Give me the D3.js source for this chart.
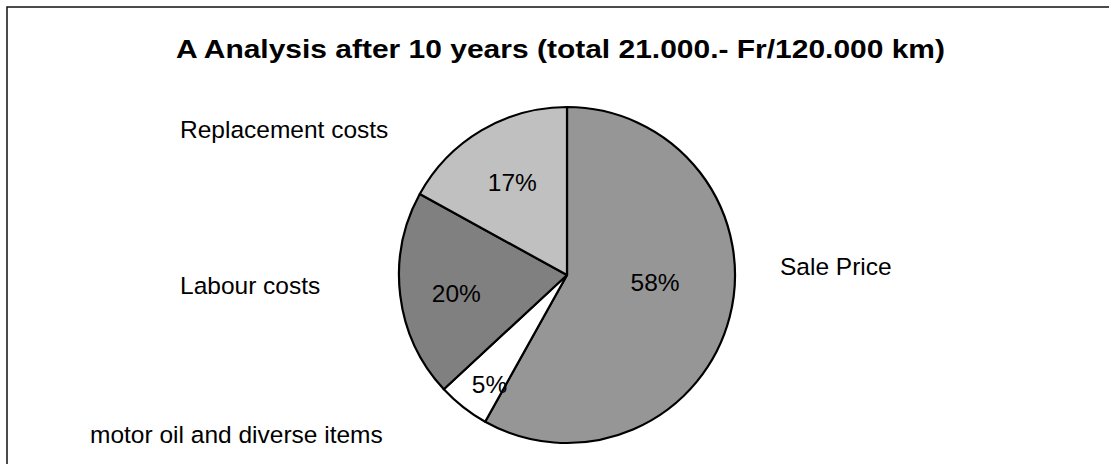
<!DOCTYPE html>
<html>
<head>
<meta charset="utf-8">
<script src="https://cdn.jsdelivr.net/npm/d3@7"></script>
<style>
  body { margin: 0; background: #fff; }
  text { font-family: "Liberation Sans", Arial, sans-serif; fill: #000; }
</style>
</head>
<body>
<script>
//// Data ////
const categories = ["Sale Price", "motor oil and diverse items", "Labour costs", "Replacement costs"]
const shares = [58.1, 5.0, 19.9, 17.0]
const sliceColors = ["#969696", "#ffffff", "#808080", "#c0c0c0"]
const TITLE = "A Analysis after 10 years (total 21.000.- Fr/120.000 km)"

//// Layout ////
const WIDTH = 1109
const HEIGHT = 464
const CX = 567
const CY = 275
const RADIUS = 168
const LABEL_RADIUS = 0.64
// where Excel dropped the category labels: [x, baseline, anchor]
const CATEGORY_POS = {
  "Sale Price": [780, 275, "start"],
  "motor oil and diverse items": [90, 443, "start"],
  "Labour costs": [180, 294, "start"],
  "Replacement costs": [180, 138, "start"]
}
// small nudges for the percent labels
const PCT_NUDGE = {
  "Sale Price": [-16, -20],
  "motor oil and diverse items": [-11, 25],
  "Labour costs": [-4, 5]
}

const svg = d3.select("body").append("svg")
  .attr("width", WIDTH)
  .attr("height", HEIGHT)

// frame (runs off the right and bottom edge)
svg.append("rect")
  .attr("x", 7).attr("y", 7)
  .attr("width", WIDTH + 20).attr("height", HEIGHT + 20)
  .attr("fill", "none")
  .attr("stroke", "#111")
  .attr("stroke-width", 1.5)

svg.append("text")
  .attr("x", 560.5).attr("y", 58)
  .attr("text-anchor", "middle")
  .attr("font-size", 26)
  .attr("font-weight", "bold")
  .attr("textLength", 769)
  .attr("lengthAdjust", "spacingAndGlyphs")
  .text(TITLE)

const data = categories.map((c, i) => ({ name: c, value: shares[i], color: sliceColors[i] }))
const total = d3.sum(shares)

const pie = d3.pie().sort(null).value(d => d.value)
const arc = d3.arc().innerRadius(0).outerRadius(RADIUS)
const labelArc = d3.arc().innerRadius(RADIUS * LABEL_RADIUS).outerRadius(RADIUS * LABEL_RADIUS)

const g = svg.append("g").attr("transform", `translate(${CX},${CY})`)
const arcs = pie(data)

g.selectAll("path")
  .data(arcs)
  .join("path")
  .attr("d", arc)
  .attr("fill", d => d.data.color)
  .attr("stroke", "#000")
  .attr("stroke-width", 2.2)
  .attr("stroke-linejoin", "round")

const fmt = d3.format(".0%")
g.selectAll("text.pct")
  .data(arcs)
  .join("text")
  .attr("class", "pct")
  .attr("text-anchor", "middle")
  .attr("font-size", 24.5)
  .attr("transform", d => {
    let [x, y] = labelArc.centroid(d)
    let n = PCT_NUDGE[d.data.name] || [0, 0]
    return `translate(${x + n[0]},${y + n[1] + 8.5})`
  })
  .text(d => fmt(d.data.value / total))

svg.selectAll("text.cat")
  .data(data)
  .join("text")
  .attr("class", "cat")
  .attr("font-size", 24.5)
  .attr("x", d => CATEGORY_POS[d.name][0])
  .attr("y", d => CATEGORY_POS[d.name][1])
  .attr("text-anchor", d => CATEGORY_POS[d.name][2])
  .text(d => d.name)
</script>
</body>
</html>
